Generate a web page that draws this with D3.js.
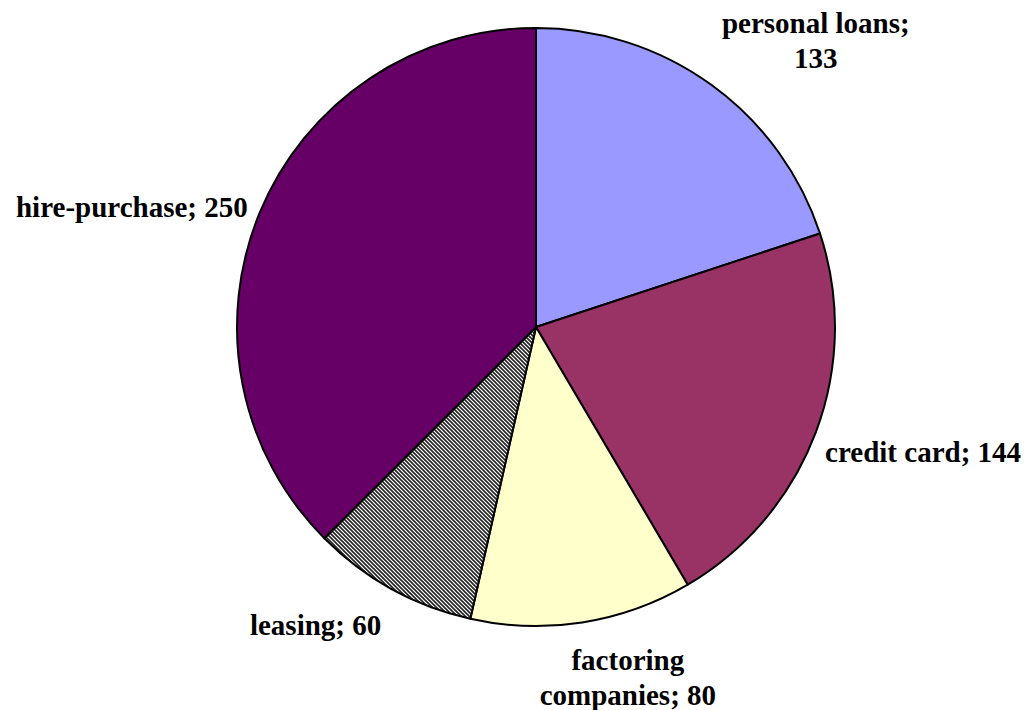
<!DOCTYPE html>
<html>
<head>
<meta charset="utf-8">
<script src="https://cdn.jsdelivr.net/npm/d3@7"></script>
<style>
  html, body { margin: 0; padding: 0; background: #fff; }
  .label { font-family: "Liberation Serif", "Times New Roman", serif; font-weight: bold; font-size: 29px; fill: #000; }
</style>
</head>
<body>
<div id="chart"></div>
<script>
const categories = ['personal loans', 'credit card', 'factoring companies', 'leasing', 'hire-purchase'];
const values = [133, 144, 80, 60, 250];
const labelLines = [['personal loans;', '133'], ['credit card; 144'], ['factoring', 'companies; 80'], ['leasing; 60'], ['hire-purchase; 250']];

const svgWidth = 1029;
const svgHeight = 710;
const cx = 536;
const cy = 327;
const radius = 299;

// label placement: angle shift (deg) from slice middle, distance as multiple of radius
const labelShift = [8.4, -2.8, -5.8, 7.6, -6];
const labelDist = [1.34, 1.36, 1.21, 1.24, 1.41];

const fills = ['#9999ff', '#993366', '#ffffcc', 'url(#hatch)', '#660066'];

const svg = d3.select('#chart')
              .append('svg')
              .attr('width', svgWidth)
              .attr('height', svgHeight);

const defs = svg.append('defs');
const pattern = defs.append('pattern')
                    .attr('id', 'hatch')
                    .attr('patternUnits', 'userSpaceOnUse')
                    .attr('width', 4)
                    .attr('height', 4);
pattern.append('rect').attr('width', 4).attr('height', 4).attr('fill', '#fff');
pattern.append('path')
       .attr('d', 'M-1,-1 L5,5 M-1,3 L1,5 M3,-1 L5,1')
       .attr('stroke', '#222')
       .attr('stroke-width', 1.6);

const data = categories.map((c, i) => ({ name: c, value: values[i], i }));

const pie = d3.pie()
              .value(d => d.value)
              .sort(null);

const arc = d3.arc()
              .innerRadius(0)
              .outerRadius(radius);

const arcs = pie(data);

const g = svg.append('g')
             .attr('transform', `translate(${cx},${cy})`);

g.selectAll('path.slice')
 .data(arcs)
 .enter().append('path')
 .attr('class', 'slice')
 .attr('d', arc)
 .attr('fill', d => fills[d.data.i])
 .attr('stroke', '#000')
 .attr('stroke-width', 2)
 .attr('stroke-linejoin', 'round');

const lineHeight = 35;

const labels = g.selectAll('text.label')
                .data(arcs)
                .enter().append('text')
                .attr('class', 'label')
                .attr('text-anchor', 'middle')
                .attr('transform', d => {
                    const a = (d.startAngle + d.endAngle) / 2 + labelShift[d.data.i] * Math.PI / 180;
                    const r = radius * labelDist[d.data.i];
                    return `translate(${r * Math.sin(a)},${-r * Math.cos(a)})`;
                });

labels.selectAll('tspan')
      .data(d => labelLines[d.data.i].map((t, k, arr) => ({ t, k, n: arr.length })))
      .enter().append('tspan')
      .attr('x', 0)
      .attr('y', d => (d.k - (d.n - 1) / 2) * lineHeight)
      .attr('dy', '0.35em')
      .text(d => d.t);
</script>
</body>
</html>
